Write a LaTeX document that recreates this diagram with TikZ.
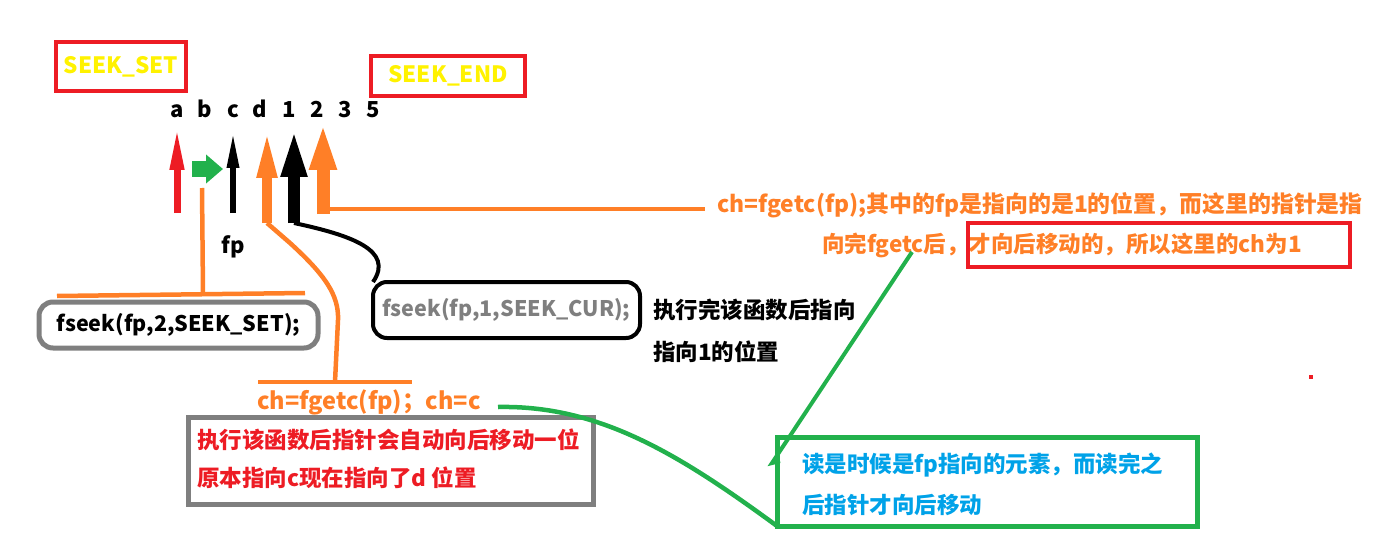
\documentclass[tikz,border=0pt]{standalone}
\usepackage{fontspec}
\setmainfont{Noto Sans CJK SC}
\usepackage{tikz}
\usetikzlibrary{arrows.meta}

\begin{document}
\begin{tikzpicture}[x=1pt,y=-1pt,every node/.style={inner sep=0pt, outer sep=0pt, font=\bfseries\fontsize{22.5}{27}\selectfont},
orangeline/.style={draw={rgb,255:red,255;green,127;blue,39}, line width=4.5pt},
greenline/.style={draw={rgb,255:red,34;green,177;blue,76}, line width=4.5pt},
seekbox/.style={draw={rgb,255:red,237;green,28;blue,36}, line width=4.5pt, text={rgb,255:red,255;green,242;blue,0}},
letter/.style={anchor=base, font=\bfseries\fontsize{22}{22}\selectfont}]
\useasboundingbox (0,0) rectangle (1391,556);
\node[seekbox, minimum width=130, minimum height=49] (seekset) at (121,66.5) {SEEK\_SET};
\node[seekbox, minimum width=154, minimum height=40] (seekend) at (448,76) {SEEK\_END};
\node[letter] (la) at (177,118) {a};
\node[letter] (lb) at (205,118) {b};
\node[letter] (lc) at (233,118) {c};
\node[letter] (ld) at (260,118) {d};
\node[letter] (l1) at (289,118) {1};
\node[letter] (l2) at (317,118) {2};
\node[letter] (l3) at (345,118) {3};
\node[letter] (l5) at (373,118) {5};
\node[letter] (fp) at (233,253) {fp};
\coordinate (ta) at (177,213); \coordinate (ha) at (177,126);
\coordinate (tc) at (233,213); \coordinate (hc) at (233,130);
\coordinate (td) at (267,223); \coordinate (hd) at (267,128);
\coordinate (t1) at (294,223); \coordinate (h1) at (294,127);
\coordinate (t2) at (323,214); \coordinate (h2) at (323,121);
\coordinate (gl) at (192,169); \coordinate (gr) at (223,169);
\draw[draw={rgb,255:red,237;green,28;blue,36}, line width=7pt, -{Triangle[length=44pt,width=13pt]}] (ta) -- (ha);
\draw[line width=6pt, -{Triangle[length=38pt,width=11pt]}] (tc) -- (hc);
\draw[orangeline, line width=10pt, -{Triangle[length=50pt,width=18pt]}] (td) -- (hd);
\draw[line width=12pt, -{Triangle[length=50pt,width=23pt]}] (t1) -- (h1);
\draw[orangeline, line width=13pt, -{Triangle[length=49pt,width=24pt]}] (t2) -- (h2);
\draw[greenline, line width=16pt, -{Triangle[length=17pt,width=28pt]}] (gl) -- (gr);
\node[draw={rgb,255:red,127;green,127;blue,127}, line width=5pt, rounded corners=14pt, minimum width=279, minimum height=46, font=\bfseries\fontsize{21.5}{21.5}\selectfont] (setbox) at (178.5,325) {fseek(fp,2,SEEK\_SET);};
\node[draw, line width=4pt, rounded corners=14pt, minimum width=267, minimum height=56, text={rgb,255:red,127;green,127;blue,127}, font=\bfseries\fontsize{21.5}{21.5}\selectfont] (curbox) at (506.5,310) {fseek(fp,1,SEEK\_CUR);};
\node[anchor=west] (curnote) at (653,310) {执行完该函数后指向};
\node[anchor=west] (curnotea) at (653,352) {指向1的位置};
\node[anchor=west, text={rgb,255:red,255;green,127;blue,39}, font=\bfseries\fontsize{23.5}{27}\selectfont] (getc) at (257,402) {ch=fgetc(fp)；ch=c};
\node[draw={rgb,255:red,127;green,127;blue,127}, line width=5pt, minimum width=405, minimum height=87] (movebox) at (390.5,460.5) {};
\node[anchor=west, text={rgb,255:red,237;green,28;blue,36}] (move) at (197,440) {执行该函数后指针会自动向后移动一位};
\node[anchor=west, text={rgb,255:red,237;green,28;blue,36}] (movea) at (197,478) {原本指向c现在指向了d 位置};
\node[anchor=west, text={rgb,255:red,255;green,127;blue,39}, font=\bfseries\fontsize{22.9}{27}\selectfont] (top) at (717,205) {ch=fgetc(fp);其中的fp是指向的是1的位置，而这里的指针是指};
\node[anchor=west, text={rgb,255:red,255;green,127;blue,39}] (topa) at (822,245) {向完fgetc后，才向后移动的，所以这里的ch为1};
\node[seekbox, minimum width=382, minimum height=44] (redbox) at (1159,245) {};
\node[greenline, line width=5pt, minimum width=420, minimum height=89] (greenbox) at (987,481.5) {};
\node[anchor=west, text={rgb,255:red,0;green,162;blue,232}] (read) at (802,465) {读是时候是fp指向的元素，而读完之};
\node[anchor=west, text={rgb,255:red,0;green,162;blue,232}] (reada) at (802,505) {后指针才向后移动};
\node[fill={rgb,255:red,237;green,28;blue,36}, minimum size=4.5pt] (dot) at (1311,377) {};
\coordinate (j2) at (323,209);
\draw[orangeline, shorten >=12pt] (j2) -- (j2 -| top.west);
\coordinate (gs) at (202,188); \coordinate (tee) at (203,293);
\coordinate (teel) at (57,296); \coordinate (teer) at (305,293);
\draw[orangeline] (gs) -- (tee);
\draw[orangeline] (teel) -- (teer);
\coordinate (bar) at (335,382); \coordinate (barl) at (258,382); \coordinate (barr) at (412,382);
\draw[orangeline] (td) -- (290,243) .. controls (325,275) and (339,295) .. (338,320) -- (bar);
\draw[orangeline] (barl) -- (barr);
\draw[line width=4pt] (t1) .. controls (350,235) and (395,250) .. (curbox.north west);
\coordinate (gtop) at (912,252); \coordinate (gbot) at (772,463);
\draw[greenline, line width=4pt] (gtop) -- (gbot) -- ++(8,-2);
\coordinate (gc) at (498,407);
\draw[greenline] (gc) .. controls (600,405) and (680,455) .. (greenbox.south west);
\end{tikzpicture}
\end{document}
